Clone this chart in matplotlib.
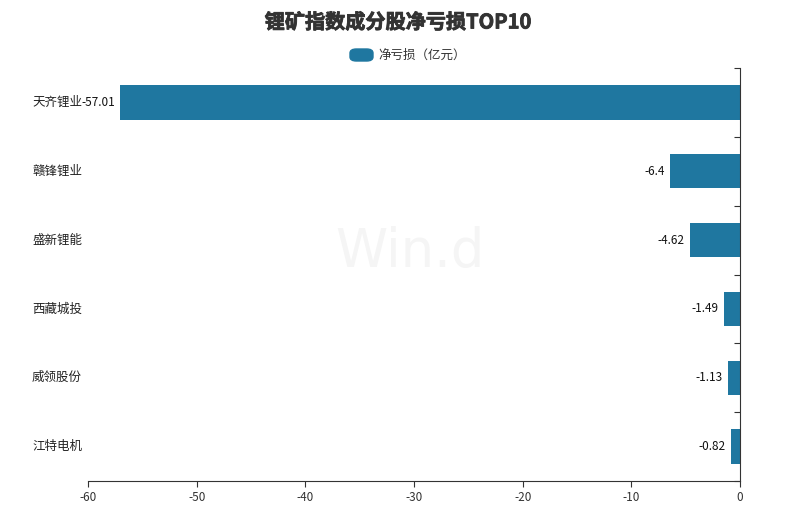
import matplotlib.pyplot as plt
import matplotlib.patheffects as pe
from matplotlib.patches import FancyBboxPatch
from matplotlib.transforms import blended_transform_factory

plt.rcParams['font.family'] = ['Noto Sans CJK SC', 'DejaVu Sans']

companies = ["天齐锂业", "赣锋锂业", "盛新锂能", "西藏城投", "威领股份", "江特电机"]
net_loss = [-57.01, -6.4, -4.62, -1.49, -1.13, -0.82]
value_labels = ["-57.01", "-6.4", "-4.62", "-1.49", "-1.13", "-0.82"]
xticks = [-60, -50, -40, -30, -20, -10, 0]

bar_color = "#1f77a0"
axis_color = "#333333"

fig = plt.figure(figsize=(7.96, 5.09), dpi=100)
ax = fig.add_axes([88 / 796, 1 - 481 / 509, (740 - 88) / 796, (481 - 68) / 509])

pos = list(range(len(companies)))
ax.barh(pos, net_loss, height=0.5, color=bar_color)
ax.set_ylim(len(companies) - 0.5, -0.5)
ax.set_xlim(-60, 0)

# value labels at bar ends
for p, v, s in zip(pos, net_loss, value_labels):
    ax.annotate(s, (v, p), xytext=(-4, 0), textcoords="offset points",
                ha="right", va="center", fontsize=8.5, color="#111111")

# category names at left edge of figure
trans = blended_transform_factory(fig.transFigure, ax.transData)
for p, name in zip(pos, companies):
    ax.text(32 / 796, p, name, transform=trans, ha="left", va="center",
            fontsize=9, color="#222222")

for side in ["top", "left"]:
    ax.spines[side].set_visible(False)
ax.spines["right"].set_color(axis_color)
ax.spines["bottom"].set_color(axis_color)

ax.yaxis.tick_right()
ax.set_yticks([p - 0.5 for p in pos] + [len(companies) - 0.5])
ax.set_yticklabels([])
ax.tick_params(axis="y", direction="in", length=4, color=axis_color)
ax.set_xticks(xticks)
ax.set_xticklabels([str(t) for t in xticks])
ax.tick_params(axis="x", direction="out", length=4, color=axis_color,
               labelsize=8.5, labelcolor="#333333", pad=3)

# watermark
fig.text(410 / 796, 1 - 252 / 509, "Win.d", fontsize=38, color="#f5f5f5",
         ha="center", va="center", family="DejaVu Sans", zorder=0)

fig.text(0.5, 1 - 22 / 509, "锂矿指数成分股净亏损TOP10", ha="center", va="center",
         fontsize=14.5, fontweight="bold", color="#333333",
         path_effects=[pe.withStroke(linewidth=0.6, foreground="#333333")])

# legend
fig.patches.append(FancyBboxPatch((350 / 796, 1 - 61 / 509), 23 / 796, 12 / 509,
                                  boxstyle="round,pad=0,rounding_size=0.008",
                                  transform=fig.transFigure, color=bar_color))
fig.text(378 / 796, 1 - 55 / 509, "净亏损（亿元）", ha="left", va="center",
         fontsize=9, color="#333333")

fig.savefig("out.png", dpi=100, facecolor="white")
